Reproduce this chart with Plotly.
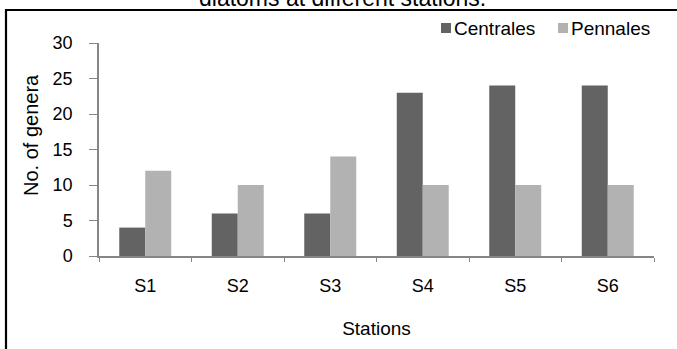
import plotly.graph_objects as go

# Number of diatom genera per station
stations = ["S1", "S2", "S3", "S4", "S5", "S6"]
centrales = [4, 6, 6, 23, 24, 24]
pennales = [12, 10, 14, 10, 10, 10]

series_names = ["Centrales", "Pennales"]
series_colors = ["#636363", "#b2b2b2"]

W, H = 677, 349
L, R, T, B = 99, 23, 43, 93
plot_w = W - L - R
plot_h = H - T - B


def px(x):
    return (x - L) / plot_w


def py(y):
    return (H - B - y) / plot_h


FONT = "Liberation Sans, Arial, sans-serif"

fig = go.Figure()
for name, vals, col in zip(series_names, [centrales, pennales], series_colors):
    fig.add_trace(go.Bar(x=stations, y=vals, name=name, marker_color=col,
                         marker_line_width=0, showlegend=False))

axis_col = "#868686"
fig.update_layout(
    width=W, height=H,
    margin=dict(l=L, r=R, t=T, b=B),
    paper_bgcolor="white", plot_bgcolor="white",
    barmode="group", bargap=0.438, bargroupgap=0,
    font=dict(family=FONT, size=18, color="#000000"),
    xaxis=dict(showline=True, linecolor=axis_col, linewidth=1.5,
               ticks="outside", tickson="boundaries", ticklen=4,
               tickcolor=axis_col, ticklabelstandoff=13,
               showgrid=False, tickfont=dict(size=18),
               title=dict(text="Stations", font=dict(size=19), standoff=26)),
    yaxis=dict(range=[0, 30], dtick=5, showline=True, linecolor=axis_col,
               linewidth=1.5, ticks="outside", ticklen=8, tickcolor=axis_col,
               ticklabelstandoff=13, showgrid=False, zeroline=False,
               tickfont=dict(size=18)),
)

# y-axis title
fig.add_annotation(xref="paper", yref="paper", x=px(31), y=py(135),
                   text="No. of genera", textangle=-90, showarrow=False,
                   xanchor="center", yanchor="middle",
                   font=dict(size=20))

# chart title (partly above the page)
fig.add_annotation(xref="paper", yref="paper", x=px(342), y=py(-2),
                   text="diatoms at different stations.", showarrow=False,
                   xanchor="center", yanchor="middle", font=dict(size=23))

# outer chart frame
fig.add_shape(type="rect", xref="paper", yref="paper",
              x0=px(6), x1=px(W + 20), y0=py(H + 20), y1=py(10),
              line=dict(color="black", width=2.2), layer="above")

# legend
legend_x = [441, 558]
for name, col, lx in zip(series_names, series_colors, legend_x):
    fig.add_shape(type="rect", xref="paper", yref="paper",
                  x0=px(lx), x1=px(lx + 10), y0=py(33), y1=py(23),
                  fillcolor=col, line=dict(width=0))
    fig.add_annotation(xref="paper", yref="paper", x=px(lx + 11), y=py(28),
                       text=name, showarrow=False, xanchor="left",
                       yanchor="middle", font=dict(size=19))

fig.write_html("out.html")
